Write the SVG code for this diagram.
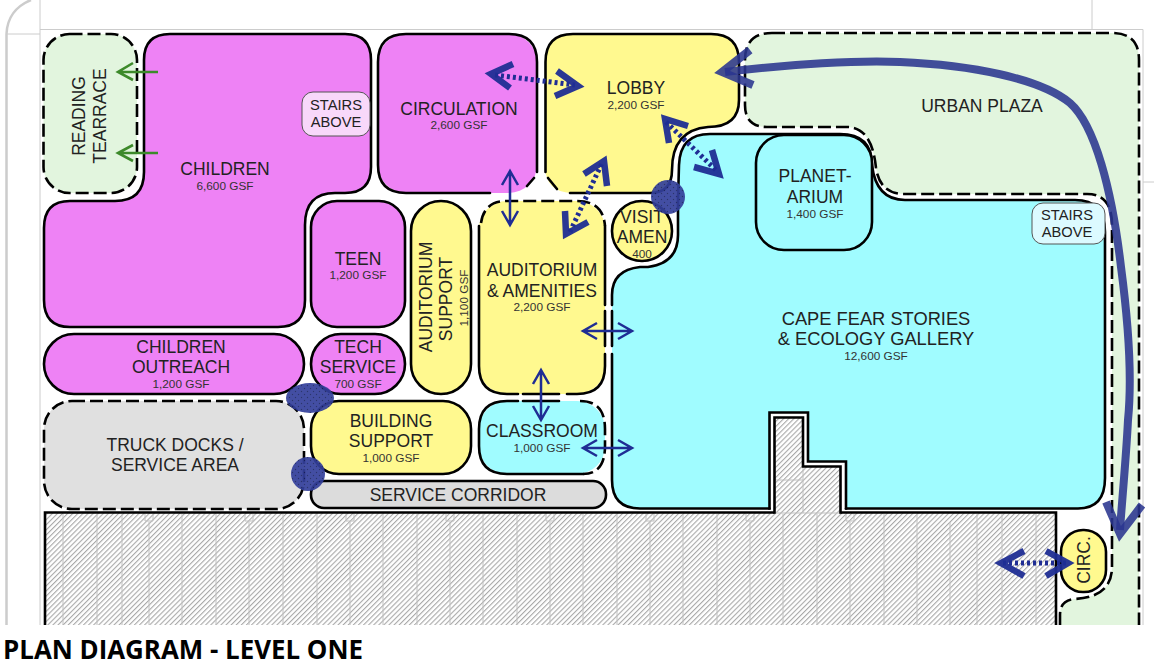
<svg xmlns="http://www.w3.org/2000/svg" width="1154" height="666" viewBox="0 0 1154 666">
<style>
text{font-family:"Liberation Sans",Arial,sans-serif;fill:#222;text-anchor:middle}
.l{font-size:17.5px}.s{font-size:11.8px;fill:#333}.g{font-size:18.3px}.st{font-size:14.7px}
.o{stroke:#000;stroke-width:2.6;fill:none;stroke-linecap:round}
.d{stroke:#000;stroke-width:2.6;fill:none;stroke-dasharray:13 5}
.m{fill:#ee82f5}.y{fill:#fff98f}.c{fill:#a0fcff}.p{fill:#e2f5de}.k{fill:#e0e0e0}
.f{stroke:#ccc;stroke-width:1;fill:none}
.h{stroke:#c0c0c0;stroke-width:1;fill:none}
.t{stroke:#1f2d94;stroke-width:2.5;fill:none}
.q{stroke:#1f2d94;fill:none}
.q1{stroke-width:5;stroke-dasharray:3 3}
.q2{stroke-width:6.5;stroke-opacity:.95;stroke-miterlimit:10}
.big{fill:none;stroke:#2a3590;stroke-opacity:.88;stroke-width:8;stroke-miterlimit:10}
.blob{fill:url(#dots)}
.gr{stroke:#3d8a2a;stroke-width:2.6;fill:none}
</style>
<defs>
<pattern id="hatch" width="3.6" height="3.6" patternUnits="userSpaceOnUse" patternTransform="rotate(45)"><rect width="3.6" height="3.6" fill="#fff"/><rect width="1.1" height="3.6" fill="#a8a8a8"/></pattern>
<pattern id="dots" width="6" height="6" patternUnits="userSpaceOnUse"><rect width="6" height="6" fill="#333f9b"/><circle cx="1.5" cy="1.5" r=".7" fill="#1a2260"/><circle cx="4.5" cy="4.5" r=".7" fill="#1a2260"/></pattern>
</defs>
<rect width="1154" height="666" fill="#fff"/>
<g id="frame">
<path class="f" d="M40,0V625M40,29.5H1143V625M1092,0V29.5M1143,182H1154M6,34H40"/>
<path d="M6.5,625V34C7,18 16,6 31,0" fill="none" stroke="#ccc" stroke-width="2.5"/>
</g>
<g id="urban-plaza">
<path class="p" d="M772,33H1112Q1139,33 1139,60V625H1060V615Q1060,600 1075,599Q1112,597 1112,567V225Q1112,194 1087,194H904Q880,194 876,168Q872,127 847,127H767Q745,127 745,105V60Q745,33 772,33Z"/>
<path class="d" d="M772,33H1112Q1139,33 1139,60V625M1060,625V615Q1060,600 1075,599Q1112,597 1112,567V225Q1112,194 1087,194H904Q880,194 876,168Q872,127 847,127H767Q745,127 745,105V60Q745,33 772,33"/>
<text class="l" x="982" y="112">URBAN PLAZA</text>
</g>
<g id="reading-terrace">
<rect class="p" x="43.5" y="34" width="93.5" height="159" rx="26"/>
<rect class="d" x="43.5" y="34" width="93.5" height="159" rx="26"/>
<text class="l" transform="translate(85,116) rotate(-90)">READING</text>
<text class="l" transform="translate(105.5,116) rotate(-90)">TEARRACE</text>
</g>
<g id="children">
<path class="m o" style="fill:#ee82f5" d="M144,60Q144,34 170,34H345Q371,34 371,60V167Q371,193 345,193H335Q305,193 305,225V300Q305,327 278,327H70Q44,327 44,300V228Q44,201 70,201H115Q144,201 144,172Z"/>
<text class="l" x="225" y="175">CHILDREN</text><text class="s" x="225" y="190">6,600 GSF</text>
</g>
<g id="stairs-children">
<rect x="302" y="92" width="68" height="44" rx="11" fill="#f8d8fa" stroke="#555" stroke-width="1"/>
<text class="st" x="336" y="110">STAIRS</text><text class="st" x="336" y="127">ABOVE</text>
</g>
<g id="circulation">
<rect class="m" x="378" y="34" width="159" height="159" rx="28"/>
<path class="o" d="M490,193H406Q378,193 378,165V62Q378,34 406,34H509Q537,34 537,62V172M527,186L534,178"/>
<text class="l" x="459" y="115">CIRCULATION</text><text class="s" x="459" y="129">2,600 GSF</text>
</g>
<g id="lobby">
<path class="y" d="M545,62Q545,34 573,34H711Q739,34 739,62V100Q739,127 708,127Q672,130 672,170Q672,193 650,193H573Q545,193 545,165Z"/>
<path class="o" d="M545.5,172V62Q545.5,34 573,34H711Q739,34 739,62V100Q739,127 708,127Q672,130 672,170Q672,193 650,193H570M548,178L557,189"/>
<text class="l" x="636" y="94">LOBBY</text><text class="s" x="636" y="109">2,200 GSF</text>
</g>
<g id="cape-fear-gallery">
<path class="c" d="M679,165Q680,134 710,134H840Q872,134 872,165Q876,200 905,200H1075Q1105,200 1105,232V478Q1105,508.5 1078,508.5H846V461.5H808V412.5H769.5V508.5H640Q612,508.5 612,480V295Q612,270 640,267H648Q678,263 678,235V200Z"/>
<path class="o" d="M612,305V295Q612,270 640,267H648Q678,263 678,235V200L679,165Q680,134 710,134H840Q872,134 872,165Q876,200 905,200H1075Q1105,200 1105,232V478Q1105,508.5 1078,508.5H846M769.5,508.5H640Q612,508.5 612,480V354M612,311V346"/>
<text class="g" x="876" y="325">CAPE FEAR STORIES</text><text class="g" x="876" y="345">&amp; ECOLOGY GALLERY</text><text class="s" x="876" y="360">12,600 GSF</text>
</g>
<g id="planetarium">
<rect class="c o" style="fill:#a0fcff" x="756" y="135" width="116" height="115" rx="28"/>
<text class="l" x="815" y="182">PLANET-</text><text class="l" x="815" y="203">ARIUM</text><text class="s" x="815" y="218">1,400 GSF</text>
</g>
<g id="stairs-gallery">
<rect x="1032" y="203" width="73" height="41" rx="11" fill="#dcfaff" stroke="#555" stroke-width="1"/>
<text class="st" x="1067" y="220">STAIRS</text><text class="st" x="1067" y="237">ABOVE</text>
</g>
<g id="teen">
<rect class="m o" style="fill:#ee82f5" x="311" y="201" width="94" height="126" rx="26"/>
<text class="l" x="358" y="265">TEEN</text><text class="s" x="358" y="279">1,200 GSF</text>
</g>
<g id="auditorium-support">
<rect class="y o" style="fill:#fff98f" x="411" y="201" width="60" height="193" rx="30"/>
<text class="l" transform="translate(432,297) rotate(-90)">AUDITORIUM</text>
<text class="l" transform="translate(452,299) rotate(-90)">SUPPORT</text>
<text class="s" transform="translate(468,298) rotate(-90)">1,100 GSF</text>
</g>
<g id="auditorium">
<rect class="y" x="479" y="201" width="126" height="193" rx="28"/>
<path class="o" d="M518,394H507Q479,394 479,366V226M605,354V366Q605,394 577,394H567M605,305V226M605,311V346M523,394H559"/>
<path class="d" d="M481,223Q484,201 507,201H577Q603,201 605,226"/>
<text class="l" x="542" y="276">AUDITORIUM</text><text class="l" x="542" y="297">&amp; AMENITIES</text><text class="s" x="542" y="311">2,200 GSF</text>
</g>
<g id="visit-amen">
<circle class="y o" style="fill:#fff98f" cx="642" cy="231" r="30"/>
<text class="l" x="642" y="223">VISIT</text><text class="l" x="642" y="243">AMEN</text><text class="s" x="642" y="258">400</text>
</g>
<g id="children-outreach">
<rect class="m o" style="fill:#ee82f5" x="44" y="334" width="260" height="60" rx="30"/>
<text class="l" x="181" y="353">CHILDREN</text><text class="l" x="181" y="373">OUTREACH</text><text class="s" x="181" y="388">1,200 GSF</text>
</g>
<g id="tech-service">
<rect class="m o" style="fill:#ee82f5" x="311" y="334" width="94" height="60" rx="30"/>
<text class="l" x="358" y="353">TECH</text><text class="l" x="358" y="373">SERVICE</text><text class="s" x="358" y="388">700 GSF</text>
</g>
<g id="truck-docks">
<rect class="k" x="44" y="401" width="260" height="108" rx="28"/>
<rect class="d" x="44" y="401" width="260" height="108" rx="28"/>
<text class="l" x="175" y="451">TRUCK DOCKS /</text><text class="l" x="175" y="471">SERVICE AREA</text>
</g>
<g id="building-support">
<rect class="y o" style="fill:#fff98f" x="311" y="401" width="160" height="73" rx="28"/>
<text class="l" x="391" y="427">BUILDING</text><text class="l" x="391" y="447">SUPPORT</text><text class="s" x="391" y="462">1,000 GSF</text>
</g>
<g id="classroom">
<rect class="c" x="479" y="401" width="126" height="73" rx="28"/>
<path class="o" d="M518,401H507Q479,401 479,429V446Q479,474 507,474H583M523,401H559"/>
<path class="d" d="M580,401Q605,401 605,429V446Q605,474 583,474"/>
<text class="l" x="542" y="437">CLASSROOM</text><text class="s" x="542" y="452">1,000 GSF</text>
</g>
<g id="service-corridor">
<rect class="k o" style="fill:#dcdcdc" x="311" y="481" width="295" height="27" rx="13"/>
<text class="l" x="458" y="501">SERVICE CORRIDOR</text>
</g>
<g id="existing-building">
<rect x="44" y="513" width="1012" height="112" fill="url(#hatch)"/>
<path class="h" d="M63,514V625M97,514V625M122,514V625M149,522V625M182,514V625M216,514V625M249,522V625M283,514V625M317,514V625M350,522V625M383,514V625M417,514V625M450,522V625M483,514V625M517,514V625M550,522V625M583,514V625M617,514V625M650,522V625M683,514V625M717,514V625M750,522V625M783,514V625M817,514V625M850,522V625M884,514V625M917,514V625M950,522V625M977,514V625M1002,514V625M1036,514V625M145,514V521H153V514M245,514V521H253V514M346,514V521H354V514M446,514V521H454V514M546,514V521H554V514M646,514V521H654V514M746,514V521H754V514M846,514V521H854V514"/>
<path fill="url(#hatch)" d="M775,418H803V467H840V513H775Z"/>
<path class="h" d="M775,480H803M803,467V513M775,513H840"/>
<path d="M45,625V512.5H774.5M840.5,512.5H1056V625" fill="none" stroke="#000" stroke-width="2.6"/>
<path d="M769.5,509.8V412.5H808V461.5H846V509.8" fill="none" stroke="#000" stroke-width="2.6"/>
<path d="M774.5,513.8V417.5H803V466.5H840.5V513.8" fill="none" stroke="#000" stroke-width="2.6"/>
</g>
<g id="circ">
<rect class="y o" style="fill:#fff98f" x="1061" y="530" width="45" height="62" rx="22"/>
<text class="l" transform="translate(1090,560) rotate(-90)">CIRC.</text>
</g>
<g id="connectors">
<path class="gr" d="M158,72H118M133,63L118,72L133,80M158,153H118M133,145L118,153L133,161"/>
<path class="t" d="M510,171V225M502,185L510,171L518,185M502,211L510,225L518,211"/>
<path class="t" d="M583,331H632M597,323L583,331L597,339M618,323L632,331L618,339"/>
<path class="t" d="M541,370V420M533,384L541,370L549,384M533,406L541,420L549,406"/>
<path class="t" d="M583,448H632M597,440L583,448L597,456M618,440L632,448L618,456"/>
<path class="q q1" d="M495,75L575,85"/>
<path class="q q2" d="M513,64L491,74L510,88M557,71L578,86L555,96"/>
<path class="q q1" d="M570,232L602,163"/>
<path class="q q2" d="M565,211L566,234L588,222M584,174L604,161L607,186"/>
<path class="q q1" d="M666,122L718,172"/>
<path class="q q2" d="M688,126L665,119L669,143M712,150L719,174L694,167"/>
<path class="q q1" d="M1003,563H1066"/>
<path class="q q2" d="M1024,551L1001,563L1024,576M1046,551L1068,563L1046,576"/>
<path class="big" d="M725,72C790,64 860,60 900,62C970,65 1040,78 1070,103C1095,125 1112,190 1121,267C1128,320 1132,380 1128,420C1126,460 1122,500 1120,530"/>
<path class="big" d="M750,50L722,72L753,85"/>
<path class="big" d="M1106,502L1120,534L1142,505"/>
<circle class="blob" cx="668" cy="197" r="17" opacity=".92"/>
<ellipse class="blob" cx="310" cy="398" rx="24" ry="15" opacity=".92"/>
<circle class="blob" cx="308" cy="474" r="17" opacity=".92"/>
</g>
<text id="title" x="3" y="659" style="text-anchor:start;font-family:'Open Sans',sans-serif;font-weight:700;font-size:25.9px;fill:#000">PLAN DIAGRAM - LEVEL ONE</text>
</svg>
